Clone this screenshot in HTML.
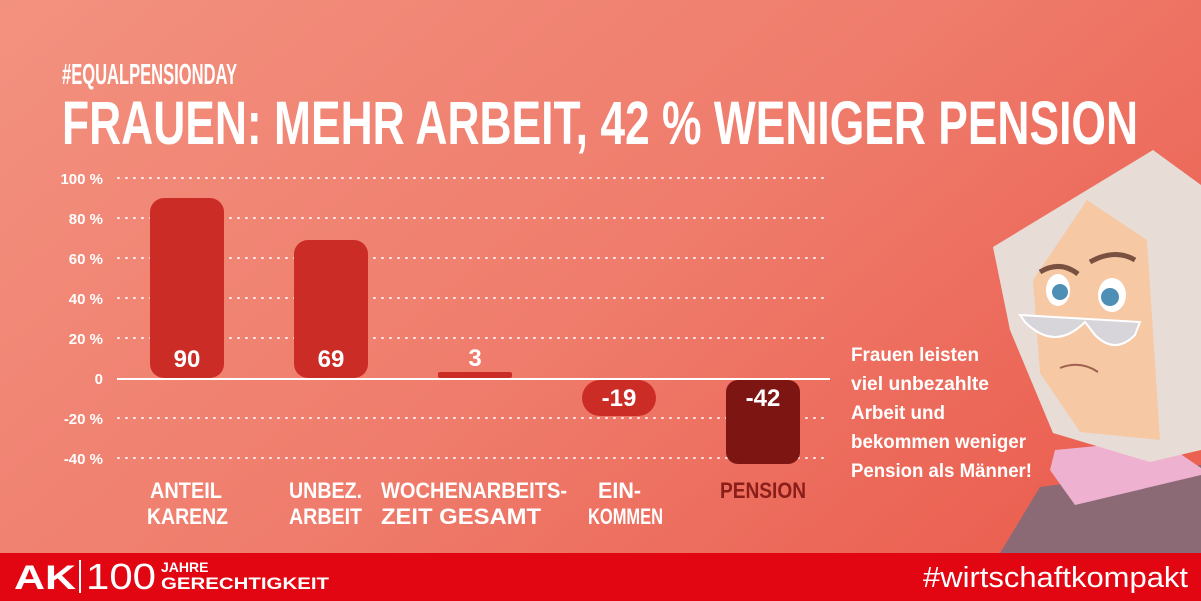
<!DOCTYPE html>
<html><head><meta charset="utf-8"><style>
html,body{margin:0;padding:0;}
body{width:1201px;height:601px;overflow:hidden;}
svg{display:block;font-family:"Liberation Sans Narrow","Liberation Sans",sans-serif;}
</style></head><body>
<svg width="1201" height="601" viewBox="0 0 1201 601" xmlns="http://www.w3.org/2000/svg">
<defs>
<linearGradient id="bg" x1="0" y1="0" x2="1" y2="0.6">
<stop offset="0" stop-color="#f3917f"/>
<stop offset="0.6" stop-color="#ef7b6b"/>
<stop offset="1" stop-color="#eb6253"/>
</linearGradient>
</defs>
<rect width="1201" height="601" fill="url(#bg)"/>
<text x="62" y="84" font-size="29" font-weight="bold" fill="#fff" textLength="175" lengthAdjust="spacingAndGlyphs">#EQUALPENSIONDAY</text>
<text x="62" y="144" font-size="61" font-weight="bold" fill="#fff" textLength="1076" lengthAdjust="spacingAndGlyphs">FRAUEN: MEHR ARBEIT, 42 % WENIGER PENSION</text>
<g stroke="#fff" stroke-width="2" stroke-dasharray="1 7" stroke-linecap="round" opacity="0.85">
<line x1="118" y1="178" x2="830" y2="178"/>
<line x1="118" y1="218" x2="830" y2="218"/>
<line x1="118" y1="258" x2="830" y2="258"/>
<line x1="118" y1="298" x2="830" y2="298"/>
<line x1="118" y1="338" x2="830" y2="338"/>
<line x1="118" y1="418" x2="830" y2="418"/>
<line x1="118" y1="458" x2="830" y2="458"/>
</g>
<line x1="117" y1="379" x2="830" y2="379" stroke="#fff" stroke-width="2"/>
<g font-size="15" font-weight="bold" fill="#fff" text-anchor="end">
<text x="103" y="184">100 %</text><text x="103" y="224">80 %</text><text x="103" y="264">60 %</text>
<text x="103" y="304">40 %</text><text x="103" y="344">20 %</text><text x="103" y="384">0</text>
<text x="103" y="424">-20 %</text><text x="103" y="464">-40 %</text>
</g>
<rect x="150" y="198" width="74" height="180" rx="14" fill="#cb2d26"/>
<rect x="294" y="240" width="74" height="138" rx="14" fill="#cb2d26"/>
<rect x="438" y="372" width="74" height="6" rx="2" fill="#cb2d26"/>
<rect x="582" y="380" width="74" height="36" rx="18" fill="#cb2d26"/>
<rect x="726" y="380" width="74" height="84" rx="12" fill="#7d1513"/>
<g font-size="24" font-weight="bold" fill="#fff" text-anchor="middle">
<text x="187" y="367">90</text><text x="331" y="367">69</text><text x="475" y="366">3</text>
<text x="619" y="406">-19</text><text x="763" y="406">-42</text>
</g>
<g font-size="22" font-weight="bold" fill="#fff" lengthAdjust="spacingAndGlyphs">
<text x="150" y="498" textLength="72" lengthAdjust="spacingAndGlyphs">ANTEIL</text>
<text x="147" y="524" textLength="81" lengthAdjust="spacingAndGlyphs">KARENZ</text>
<text x="289" y="498" textLength="73" lengthAdjust="spacingAndGlyphs">UNBEZ.</text>
<text x="289" y="524" textLength="73" lengthAdjust="spacingAndGlyphs">ARBEIT</text>
<text x="381" y="498" textLength="186" lengthAdjust="spacingAndGlyphs">WOCHENARBEITS-</text>
<text x="381" y="524" textLength="160" lengthAdjust="spacingAndGlyphs">ZEIT GESAMT</text>
<text x="598" y="498" textLength="43" lengthAdjust="spacingAndGlyphs">EIN-</text>
<text x="588" y="524" textLength="75" lengthAdjust="spacingAndGlyphs">KOMMEN</text>
<text x="720" y="498" textLength="86" lengthAdjust="spacingAndGlyphs" fill="#8a1e1a">PENSION</text>
</g>
<!-- character -->
<polygon points="1000,553 1040,487 1201,465 1201,553" fill="#8b6a76"/>
<polygon points="1055,450 1160,440 1201,468 1201,475 1075,505 1050,470" fill="#eeb1cf"/>
<polygon points="993,247 1153,150 1201,185 1201,450 1150,462 1053,433 1010,330" fill="#e8dcd6"/>
<polygon points="1033,280 1087,200 1147,240 1160,440 1080,432 1040,373" fill="#f6c9a4"/>
<path d="M1040,272 q20,-12 38,2" stroke="#7a5040" stroke-width="5" fill="none"/>
<path d="M1090,262 q25,-14 45,-2" stroke="#7a5040" stroke-width="5" fill="none"/>
<ellipse cx="1058" cy="290" rx="12" ry="16" fill="#fff"/><circle cx="1060" cy="292" r="8" fill="#4f8fb5"/>
<ellipse cx="1112" cy="295" rx="14" ry="17" fill="#fff"/><circle cx="1110" cy="297" r="9" fill="#4f8fb5"/>
<path d="M1020,315 L1140,322 L1135,335 q-20,20 -40,0 L1085,322 q-30,30 -60,0 z" fill="#d7d5d9" stroke="#fff" stroke-width="2"/>
<path d="M1060,368 q20,-8 38,4" stroke="#a06050" stroke-width="2" fill="none"/>
<rect x="0" y="553" width="1201" height="48" fill="#e20613"/>
<text x="14" y="589" font-size="34" font-weight="bold" fill="#fff" textLength="62" lengthAdjust="spacingAndGlyphs">AK</text>
<line x1="80" y1="560" x2="80" y2="593" stroke="#fff" stroke-width="2"/>
<text x="86" y="589" font-size="36" fill="#fff" textLength="70" lengthAdjust="spacingAndGlyphs">100</text>
<text x="161" y="572" font-size="14" font-weight="bold" fill="#fff">JAHRE</text>
<text x="161" y="589" font-size="17" font-weight="bold" fill="#fff" textLength="168" lengthAdjust="spacingAndGlyphs">GERECHTIGKEIT</text>
<text x="1188" y="587" font-size="29" fill="#fff" text-anchor="end" textLength="265" lengthAdjust="spacingAndGlyphs">#wirtschaftkompakt</text>
<g font-size="19" font-weight="bold" fill="#fff">
<text x="851" y="361" textLength="128" lengthAdjust="spacingAndGlyphs">Frauen leisten</text>
<text x="851" y="390" textLength="138" lengthAdjust="spacingAndGlyphs">viel unbezahlte</text>
<text x="851" y="419" textLength="94" lengthAdjust="spacingAndGlyphs">Arbeit und</text>
<text x="851" y="448" textLength="175" lengthAdjust="spacingAndGlyphs">bekommen weniger</text>
<text x="851" y="477" textLength="181" lengthAdjust="spacingAndGlyphs">Pension als Männer!</text>
</g>
</svg>
</body></html>
